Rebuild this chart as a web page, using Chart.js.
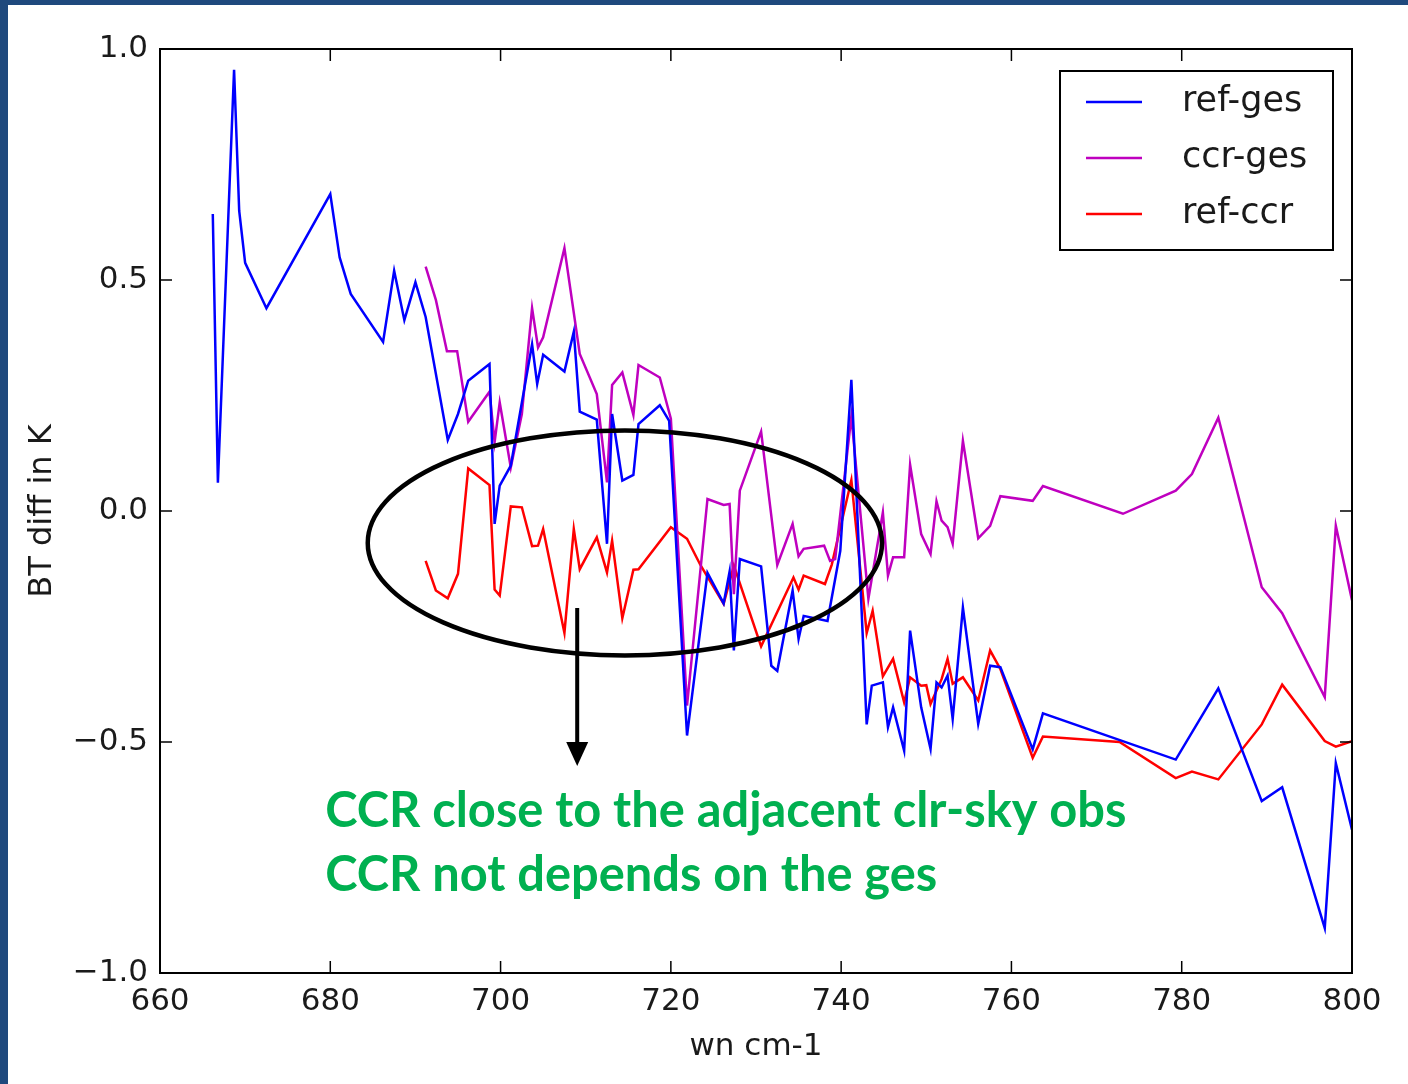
<!DOCTYPE html>
<html>
<head>
<meta charset="utf-8">
<title>BT diff</title>
<script src="https://cdn.jsdelivr.net/npm/chart.js@4.4.1/dist/chart.umd.min.js"></script>
<style>
  html, body { margin: 0; padding: 0; background: #fff; }
  #wrap { width: 1408px; height: 1084px; position: relative; }
</style>
</head>
<body>
<div id="wrap"><canvas id="btChart" width="1408" height="1084"></canvas></div>
<script>
// wavenumbers (cm-1) and BT differences (K)
const wnRefGes = [666.2, 666.8, 668.7, 669.3, 670.0, 672.5, 680.0, 681.1, 682.4, 686.2, 687.5, 688.7, 690.0, 691.2,
  693.8, 695.0, 696.2, 698.7, 699.3, 699.9, 701.2, 703.7, 704.3, 705.0, 707.5, 708.6, 709.3, 711.3, 712.5, 713.1,
  714.3, 715.6, 716.2, 718.7, 719.8, 721.9, 724.3, 726.2, 726.9, 727.4, 728.1, 730.6, 731.8, 732.5, 734.3, 735.0,
  735.6, 738.4, 739.9, 741.2, 743.0, 743.6, 744.9, 745.5, 746.1, 747.4, 748.1, 749.4, 750.5, 751.2, 751.8, 752.5,
  753.1, 754.3, 756.1, 757.5, 758.7, 762.5, 763.7, 779.3, 784.3, 789.4, 791.8, 796.8, 798.1, 800.0];
const refGes = [0.643, 0.061, 0.955, 0.650, 0.537, 0.439, 0.686, 0.549, 0.470, 0.366, 0.520, 0.413, 0.495, 0.420,
  0.154, 0.210, 0.282, 0.318, -0.028, 0.055, 0.098, 0.361, 0.275, 0.338, 0.302, 0.388, 0.215, 0.198, -0.071, 0.210,
  0.066, 0.078, 0.188, 0.229, 0.195, -0.486, -0.134, -0.200, -0.131, -0.302, -0.104, -0.120, -0.335, -0.346, -0.172, -0.277,
  -0.227, -0.238, -0.086, 0.284, -0.462, -0.378, -0.371, -0.468, -0.425, -0.519, -0.259, -0.425, -0.515, -0.371, -0.382, -0.356,
  -0.450, -0.209, -0.461, -0.335, -0.338, -0.516, -0.438, -0.538, -0.384, -0.628, -0.598, -0.903, -0.546, -0.690];

const wnCcrGes = [691.2, 692.4, 693.7, 694.9, 696.2, 698.7, 699.3, 699.9, 701.2, 702.5, 703.7, 704.4, 705.0, 707.5,
  709.3, 711.3, 712.5, 713.1, 714.3, 715.6, 716.2, 718.7, 720.0, 721.9, 724.3, 726.2, 726.9, 727.4, 728.1, 730.6,
  732.5, 734.3, 735.0, 735.6, 738.0, 738.7, 739.3, 741.2, 743.2, 744.9, 745.5, 746.1, 747.4, 748.1, 749.4, 750.5,
  751.2, 751.8, 752.5, 753.1, 754.3, 756.1, 757.5, 758.7, 762.5, 763.7, 773.1, 779.3, 781.2, 784.3, 789.4, 791.8,
  796.8, 798.1, 800.0];
const ccrGes = [0.529, 0.457, 0.346, 0.346, 0.193, 0.258, 0.149, 0.235, 0.094, 0.210, 0.439, 0.354, 0.376, 0.569,
  0.340, 0.253, 0.062, 0.273, 0.300, 0.208, 0.316, 0.289, 0.200, -0.421, 0.026, 0.013, 0.015, -0.180, 0.044, 0.172,
  -0.117, -0.028, -0.098, -0.082, -0.075, -0.108, -0.104, 0.205, -0.190, -0.003, -0.140, -0.100, -0.100, 0.100, -0.050, -0.093,
  0.021, -0.021, -0.035, -0.071, 0.152, -0.059, -0.032, 0.032, 0.022, 0.054, -0.006, 0.044, 0.080, 0.202, -0.165, -0.221,
  -0.403, -0.032, -0.193];

const wnRefCcr = [691.2, 692.4, 693.8, 695.0, 696.2, 698.7, 699.3, 699.9, 701.2, 702.5, 703.7, 704.4, 705.0, 707.5,
  708.6, 709.3, 711.3, 712.5, 713.1, 714.3, 715.6, 716.2, 720.0, 721.9, 723.5, 726.2, 727.4, 730.6, 734.4, 735.0,
  735.6, 738.1, 738.9, 741.2, 743.0, 743.7, 744.9, 746.1, 747.4, 748.1, 749.4, 750.0, 750.5, 751.8, 752.5, 753.1,
  754.3, 756.1, 757.5, 758.7, 762.5, 763.7, 772.7, 779.3, 781.2, 784.3, 789.4, 791.8, 796.8, 798.1, 800.0];
const refCcr = [-0.108, -0.172, -0.189, -0.136, 0.092, 0.056, -0.170, -0.183, 0.010, 0.008, -0.076, -0.075, -0.039, -0.264,
  -0.039, -0.126, -0.057, -0.133, -0.064, -0.232, -0.127, -0.126, -0.035, -0.060, -0.118, -0.201, -0.118, -0.293, -0.144, -0.170,
  -0.140, -0.158, -0.116, 0.067, -0.264, -0.216, -0.358, -0.320, -0.414, -0.360, -0.378, -0.377, -0.418, -0.364, -0.320, -0.374,
  -0.360, -0.410, -0.302, -0.342, -0.534, -0.488, -0.500, -0.578, -0.564, -0.581, -0.462, -0.376, -0.498, -0.510, -0.498];

const seriesNames = ['ref-ges', 'ccr-ges', 'ref-ccr'];
const seriesColors = ['#0000ff', '#bf00bf', '#ff0000'];

const xTicks = [660, 680, 700, 720, 740, 760, 780, 800];
const yTicks = [-1.0, -0.5, 0.0, 0.5, 1.0];
const yTickLabels = ['\u22121.0', '\u22120.5', '0.0', '0.5', '1.0'];

const noteLines = ['CCR close to the adjacent clr-sky obs', 'CCR not depends on the ges'];

function toPoints(xs, ys) {
  return xs.map((x, i) => ({ x: x, y: ys[i] }));
}

const axisFont = { family: 'DejaVu Sans', size: 31 };
const textColor = '#1a1a1a';

// frame, inward ticks, legend and the hand-drawn annotation
const decorPlugin = {
  id: 'decor',
  beforeDraw(chart) {
    const ctx = chart.ctx;
    ctx.save();
    ctx.fillStyle = '#ffffff';
    ctx.fillRect(0, 0, chart.width, chart.height);
    ctx.fillStyle = '#1f497d';
    ctx.fillRect(0, 0, chart.width, 5);
    ctx.fillRect(0, 0, 8, chart.height);
    ctx.restore();
  },
  afterDraw(chart) {
    const ctx = chart.ctx;
    const a = chart.chartArea;
    const xs = chart.scales.x, ys = chart.scales.y;
    ctx.save();

    // ticks pointing inwards on all four sides
    ctx.strokeStyle = '#000';
    ctx.lineWidth = 1.5;
    ctx.beginPath();
    xTicks.forEach(v => {
      const px = xs.getPixelForValue(v);
      ctx.moveTo(px, a.bottom); ctx.lineTo(px, a.bottom - 12);
      ctx.moveTo(px, a.top); ctx.lineTo(px, a.top + 12);
    });
    yTicks.forEach(v => {
      const py = ys.getPixelForValue(v);
      ctx.moveTo(a.left, py); ctx.lineTo(a.left + 12, py);
      ctx.moveTo(a.right, py); ctx.lineTo(a.right - 12, py);
    });
    ctx.stroke();

    // axes frame
    ctx.lineWidth = 2;
    ctx.strokeRect(a.left, a.top, a.right - a.left, a.bottom - a.top);

    // legend box
    const lx = a.right - 292, ly = a.top + 22, lw = 273, lh = 179;
    ctx.fillStyle = '#fff';
    ctx.fillRect(lx, ly, lw, lh);
    ctx.strokeRect(lx, ly, lw, lh);
    ctx.font = '35px "DejaVu Sans"';
    ctx.textBaseline = 'middle';
    chart.data.datasets.forEach((ds, i) => {
      const rowY = ly + 31 + i * 56;
      ctx.strokeStyle = ds.borderColor;
      ctx.lineWidth = 2.5;
      ctx.beginPath();
      ctx.moveTo(lx + 26, rowY); ctx.lineTo(lx + 82, rowY);
      ctx.stroke();
      ctx.fillStyle = textColor;
      ctx.fillText(ds.label, lx + 122, rowY);
    });

    // ellipse around the ref-ccr curve
    const cx = xs.getPixelForValue(714.6), cy = ys.getPixelForValue(-0.069);
    const rx = xs.getPixelForValue(714.6 + 30.2) - cx;
    const ry = ys.getPixelForValue(-0.069 - 0.2435) - cy;
    ctx.strokeStyle = '#000';
    ctx.lineWidth = 4.5;
    ctx.beginPath();
    ctx.ellipse(cx, cy, rx, ry, 0, 0, Math.PI * 2);
    ctx.stroke();

    // arrow down to the note
    const ax = xs.getPixelForValue(709.0);
    const ay0 = ys.getPixelForValue(-0.21), ay1 = ys.getPixelForValue(-0.552);
    ctx.lineWidth = 4;
    ctx.beginPath();
    ctx.moveTo(ax, ay0); ctx.lineTo(ax, ay1 - 20);
    ctx.stroke();
    ctx.fillStyle = '#000';
    ctx.beginPath();
    ctx.moveTo(ax - 11, ay1 - 24); ctx.lineTo(ax + 11, ay1 - 24); ctx.lineTo(ax, ay1);
    ctx.closePath();
    ctx.fill();

    // green note text
    const tx = xs.getPixelForValue(679.4);
    ctx.font = 'bold 46px Lato';
    const size = 46 * 802 / ctx.measureText(noteLines[0]).width;
    ctx.font = 'bold ' + size.toFixed(1) + 'px Lato';
    ctx.fillStyle = '#00b050';
    ctx.textBaseline = 'alphabetic';
    ctx.fillText(noteLines[0], tx, ys.getPixelForValue(-0.684));
    ctx.fillText(noteLines[1], tx, ys.getPixelForValue(-0.8225));
    ctx.restore();
  }
};

const ctx = document.getElementById('btChart').getContext('2d');
const btChart = new Chart(ctx, {
  type: 'scatter',
  data: {
    datasets: [
      { label: seriesNames[0], data: toPoints(wnRefGes, refGes) },
      { label: seriesNames[1], data: toPoints(wnCcrGes, ccrGes) },
      { label: seriesNames[2], data: toPoints(wnRefCcr, refCcr) }
    ].map((ds, i) => Object.assign(ds, {
      showLine: true,
      borderColor: seriesColors[i],
      backgroundColor: seriesColors[i],
      borderWidth: 2.5,
      pointRadius: 0,
      tension: 0
    }))
  },
  options: {
    responsive: false,
    animation: false,
    layout: { padding: { left: 0, top: 49, right: 56, bottom: 0 } },
    plugins: {
      legend: { display: false },
      tooltip: { enabled: false }
    },
    scales: {
      x: {
        type: 'linear',
        min: 660,
        max: 800,
        afterFit: s => { s.height = 111; },
        afterBuildTicks: s => { s.ticks = xTicks.map(v => ({ value: v })); },
        grid: { display: false, drawTicks: false },
        border: { display: false },
        ticks: { color: textColor, font: axisFont, padding: 10, maxRotation: 0 },
        title: { display: true, text: 'wn cm-1', color: textColor, font: axisFont, padding: { bottom: 18 } }
      },
      y: {
        min: -1,
        max: 1,
        afterFit: s => { s.width = 160; },
        afterBuildTicks: s => { s.ticks = yTicks.map(v => ({ value: v })); },
        grid: { display: false, drawTicks: false },
        border: { display: false },
        ticks: {
          color: textColor, font: axisFont, padding: 12,
          callback: v => yTickLabels[yTicks.indexOf(v)]
        },
        title: { display: true, text: 'BT diff in K', color: textColor, font: { family: 'DejaVu Sans', size: 32 }, padding: { top: 23 } }
      }
    }
  },
  plugins: [decorPlugin]
});
</script>
</body>
</html>
